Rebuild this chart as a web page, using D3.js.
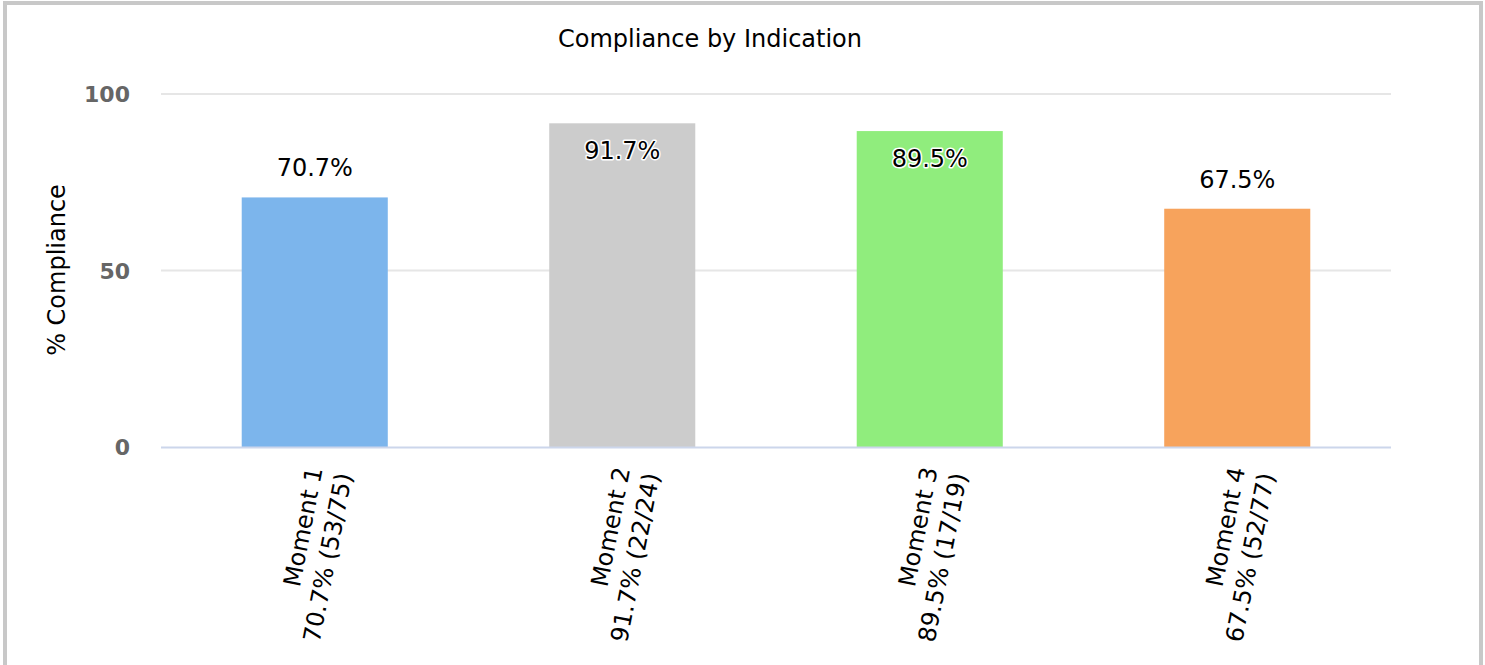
<!DOCTYPE html>
<html><head><meta charset="utf-8">
<script src="https://cdn.jsdelivr.net/npm/d3@7"></script>
<style>html,body{margin:0;padding:0;background:#fff;overflow:hidden}</style>
</head><body>
<svg id="c" width="1485" height="665"></svg>
<script>
const categories = ["Moment 1", "Moment 2", "Moment 3", "Moment 4"];
const subLabels = ["70.7% (53/75)", "91.7% (22/24)", "89.5% (17/19)", "67.5% (52/77)"];
const values = [70.7, 91.7, 89.5, 67.5];
const colors = ["#7cb5ec", "#cccccc", "#90ed7d", "#f7a35c"];
const yTicks = [0, 50, 100];
const title = "Compliance by Indication";
const yTitle = "% Compliance";

const svg = d3.select("#c");
const font = "DejaVu Sans, sans-serif";
const pLeft = 161, pRight = 1391, pTop = 94, pBottom = 447;

svg.append("rect").attr("x", 5).attr("y", 3).attr("width", 1476).attr("height", 720)
  .attr("fill", "#fff").attr("stroke", "#c8c8c8").attr("stroke-width", 4);

const x = d3.scaleBand().domain(categories).range([pLeft, pRight]).paddingInner(0.525).paddingOuter(0.2625);
const y = d3.scaleLinear().domain([0, 100]).range([pBottom, pTop]);

// gridlines
svg.append("g").selectAll("line").data(yTicks.filter(t => t > 0)).join("line")
  .attr("x1", pLeft).attr("x2", pRight).attr("y1", d => y(d)).attr("y2", d => y(d))
  .attr("stroke", "#e6e6e6").attr("stroke-width", 2);

// y tick labels
const yAxis = d3.axisLeft(y).tickValues(yTicks).tickSize(0).tickPadding(0);
const ya = svg.append("g").attr("transform", `translate(130,0)`).call(yAxis);
ya.select(".domain").remove();
ya.selectAll("text").attr("font-family", font).attr("font-size", 22).attr("font-weight", "bold")
  .attr("fill", "#666").attr("dy", "0.35em");

// bars
svg.append("g").selectAll("rect").data(values).join("rect")
  .attr("x", (d, i) => x(categories[i])).attr("width", x.bandwidth())
  .attr("y", d => y(d)).attr("height", d => pBottom - y(d))
  .attr("fill", (d, i) => colors[i]);

// x axis line
svg.append("line").attr("x1", pLeft).attr("x2", pRight).attr("y1", pBottom + 0.5).attr("y2", pBottom + 0.5)
  .attr("stroke", "#ccd6eb").attr("stroke-width", 2);

// data labels
svg.append("g").selectAll("text").data(values).join("text")
  .attr("x", (d, i) => x(categories[i]) + x.bandwidth() / 2)
  .attr("y", d => d > 85 ? y(d) + 36 : y(d) - 21)
  .attr("text-anchor", "middle").attr("font-family", font).attr("font-size", 24)
  .attr("fill", "#000").attr("stroke", "#fff").attr("stroke-width", 3).attr("stroke-linejoin", "round")
  .attr("paint-order", "stroke")
  .text(d => d.toFixed(1) + "%");

// x labels rotated
const xl = svg.append("g").selectAll("text").data(categories).join("text")
  .attr("transform", (d, i) => `translate(${x(d) + x.bandwidth() / 2 + 8},${pBottom + 22}) rotate(-79)`)
  .attr("text-anchor", "end").attr("font-family", font).attr("font-size", 24).attr("fill", "#000");
xl.append("tspan").attr("x", 0).attr("dy", 0).text(d => d);
xl.append("tspan").attr("x", 0).attr("dy", 30).text((d, i) => subLabels[i]);

// title
svg.append("text").attr("x", 710).attr("y", 47).attr("text-anchor", "middle")
  .attr("font-family", font).attr("font-size", 24).attr("fill", "#000").text(title);

// y title
svg.append("text").attr("transform", "translate(65,270) rotate(-90)").attr("text-anchor", "middle")
  .attr("font-family", font).attr("font-size", 24).attr("fill", "#000").text(yTitle);
</script>
</body></html>
